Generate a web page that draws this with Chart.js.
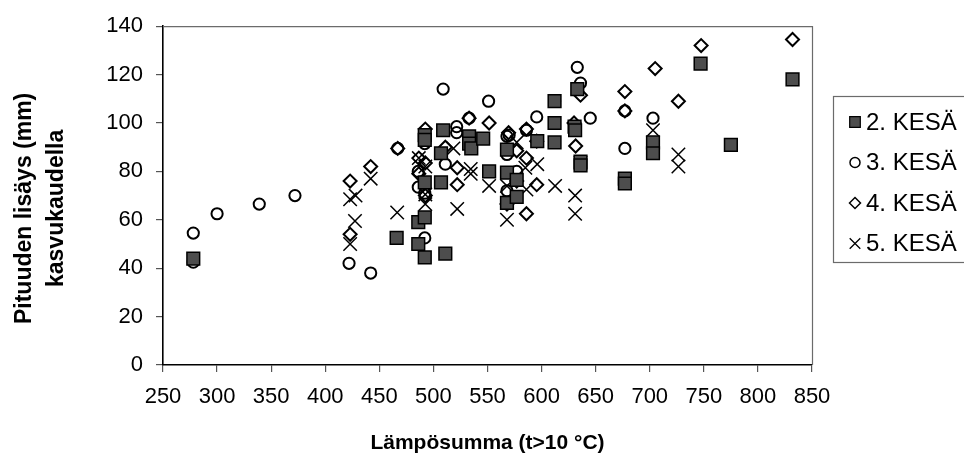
<!DOCTYPE html>
<html><head><meta charset="utf-8">
<script src="https://cdn.jsdelivr.net/npm/chart.js@4.4.0/dist/chart.umd.min.js"></script>
<style>html,body{margin:0;padding:0;background:#fff}canvas{display:block}</style>
</head><body>
<canvas id="c" width="964" height="459"></canvas>
<script>
const seriesLabels = ['2. KESÄ', '3. KESÄ', '4. KESÄ', '5. KESÄ'];

const kesa2X = [278, 466, 486, 486, 492, 492, 492, 492, 492, 507, 507, 509, 511, 533, 533, 535, 546, 551.5, 568, 568, 568, 577, 577, 596, 612, 612, 612, 630.5, 631, 633, 636, 636, 677, 677, 703, 703, 747, 775, 832];
const kesa2Y = [44, 52.5, 59, 50, 61, 44.5, 75.5, 95, 93, 75.5, 87.5, 97, 46, 94.5, 91.5, 89.5, 93.5, 80, 89, 79.5, 67, 76.5, 69.5, 92.5, 109, 100, 92, 98.5, 97, 114, 84, 82.5, 77, 75, 92, 87.5, 124.5, 91, 118];

const kesa3X = [278, 278, 300, 339, 372, 422, 442, 467, 486, 486, 492, 492, 492, 492, 509, 511, 521.5, 521.5, 533, 551, 568, 568, 568, 570, 577, 586, 595.5, 612, 633, 636, 645, 677, 677, 703];
const kesa3Y = [54.5, 42.5, 62.5, 66.5, 70, 42, 38, 89.5, 80, 73.5, 93, 91.5, 71, 52.5, 114, 83, 98.5, 96, 102, 109, 94.5, 87, 72, 95, 80, 97, 102.5, 109, 123, 116.5, 102, 105, 89.5, 102];

const kesa4X = [423, 423, 442, 467, 486.5, 486.5, 492.5, 492.5, 492.5, 511, 522, 522, 533, 551.5, 568, 569.5, 577, 577, 586, 586, 586, 595.5, 595.5, 630, 631.5, 636, 677, 677, 705, 726.5, 747.5, 832];
const kesa4Y = [76, 54, 82, 89.5, 85.5, 79, 97.5, 83.5, 70, 90, 81.5, 74.5, 102, 100, 66.5, 96, 88.5, 76, 97.5, 85.5, 62.5, 92.5, 74.5, 100, 90.5, 111.5, 113, 105, 122.5, 109, 132, 134.5];

const kesa5X = [423, 428, 427.5, 423, 442, 466.5, 486.5, 492.5, 492.5, 492.5, 518.5, 522, 534.5, 534.5, 551.5, 568, 568, 577, 585, 586, 596, 612.5, 631, 631, 636, 703, 726.5, 726.5];
const kesa5Y = [68.5, 70, 59.5, 50, 77, 63, 85.5, 70.5, 66.5, 82, 89.5, 64.5, 81, 79, 74, 74, 60, 92, 81.5, 72.5, 83, 74, 70, 62.5, 83.5, 97, 87, 82];

const xAxisMin = 250, xAxisMax = 850, xAxisStep = 50;
const yAxisMin = 0, yAxisMax = 140, yAxisStep = 20;

function pts(xs, ys) { return xs.map((x, i) => ({ x: x, y: ys[i] })); }

const FONT = "'Liberation Sans', Arial, sans-serif";

const frame = {
  id: 'frame',
  beforeDatasetsDraw(chart) {
    const a = chart.chartArea, ctx = chart.ctx;
    ctx.save();
    ctx.strokeStyle = '#6b6b6b';
    ctx.lineWidth = 1.2;
    ctx.beginPath();
    ctx.moveTo(a.left, a.top + 0.5);
    ctx.lineTo(a.right + 0.5, a.top + 0.5);
    ctx.lineTo(a.right + 0.5, a.bottom);
    ctx.stroke();
    ctx.restore();
  }
};

const legendBox = {
  id: 'legendBox',
  afterDraw(chart) {
    const ctx = chart.ctx;
    ctx.save();
    ctx.strokeStyle = '#6b6b6b';
    ctx.lineWidth = 1.2;
    ctx.strokeRect(833.5, 96.5, 140, 166);
    ctx.font = '24px ' + FONT;
    ctx.textBaseline = 'middle';
    ctx.textAlign = 'left';
    chart.data.datasets.forEach((ds, i) => {
      const y = 122 + i * 40.5;
      ctx.fillStyle = ds.backgroundColor;
      ctx.strokeStyle = ds.borderColor;
      ctx.lineWidth = ds.legendBorder;
      Chart.helpers.drawPoint(ctx, { pointStyle: ds.pointStyle, radius: ds.legendRadius, borderWidth: ds.legendBorder, rotation: 0 }, 855, y);
      ctx.fillStyle = '#000';
      ctx.fillText(ds.label, 866, y + 1);
    });
    ctx.restore();
  }
};

new Chart(document.getElementById('c'), {
  type: 'scatter',
  data: {
    datasets: [
      { label: seriesLabels[0], data: pts(kesa2X, kesa2Y), pointStyle: 'rect', pointRadius: 9, backgroundColor: '#4d4d4d', borderColor: '#000', borderWidth: 1.5, legendRadius: 7.5, legendBorder: 1.2 },
      { label: seriesLabels[1], data: pts(kesa3X, kesa3Y), pointStyle: 'circle', pointRadius: 5.6, backgroundColor: 'rgba(0,0,0,0)', borderColor: '#000', borderWidth: 2, legendRadius: 5, legendBorder: 1.5 },
      { label: seriesLabels[2], data: pts(kesa4X, kesa4Y), pointStyle: 'rectRot', pointRadius: 6.5, backgroundColor: 'rgba(0,0,0,0)', borderColor: '#000', borderWidth: 2, legendRadius: 5.5, legendBorder: 1.5 },
      { label: seriesLabels[3], data: pts(kesa5X, kesa5Y), pointStyle: 'crossRot', pointRadius: 9.5, backgroundColor: 'rgba(0,0,0,0)', borderColor: '#000', borderWidth: 1.5, legendRadius: 7.5, legendBorder: 1.3 }
    ]
  },
  options: {
    responsive: false,
    animation: false,
    events: [],
    layout: { padding: { top: 24, right: 152, left: 0, bottom: 0 } },
    plugins: { legend: { display: false }, tooltip: { enabled: false } },
    scales: {
      x: {
        type: 'linear', min: xAxisMin, max: xAxisMax,
        ticks: { stepSize: xAxisStep, color: '#000', padding: 12, font: { family: FONT, size: 22 } },
        grid: { drawOnChartArea: false, drawTicks: true, tickLength: 7, color: '#555', lineWidth: 1.2 },
        border: { color: '#000', width: 1.6 },
        title: { display: true, text: 'Lämpösumma (t>10 °C)', color: '#000', padding: { top: 0, bottom: 3 }, font: { family: FONT, size: 21, weight: 'bold' } },
        afterFit(s) { s.height = 94; }
      },
      y: {
        type: 'linear', min: yAxisMin, max: yAxisMax,
        ticks: { stepSize: yAxisStep, color: '#000', padding: 13, font: { family: FONT, size: 22 } },
        grid: { drawOnChartArea: false, drawTicks: true, tickLength: 7, color: '#555', lineWidth: 1.2 },
        border: { color: '#000', width: 1.6 },
        title: { display: true, text: ['Pituuden lisäys (mm)    ', 'kasvukaudella    '], color: '#000', padding: { top: 9, bottom: 0 }, font: { family: FONT, size: 23, weight: 'bold', lineHeight: '32px' } },
        afterFit(s) { s.width = 163; }
      }
    }
  },
  plugins: [frame, legendBox]
});
</script>
</body></html>
